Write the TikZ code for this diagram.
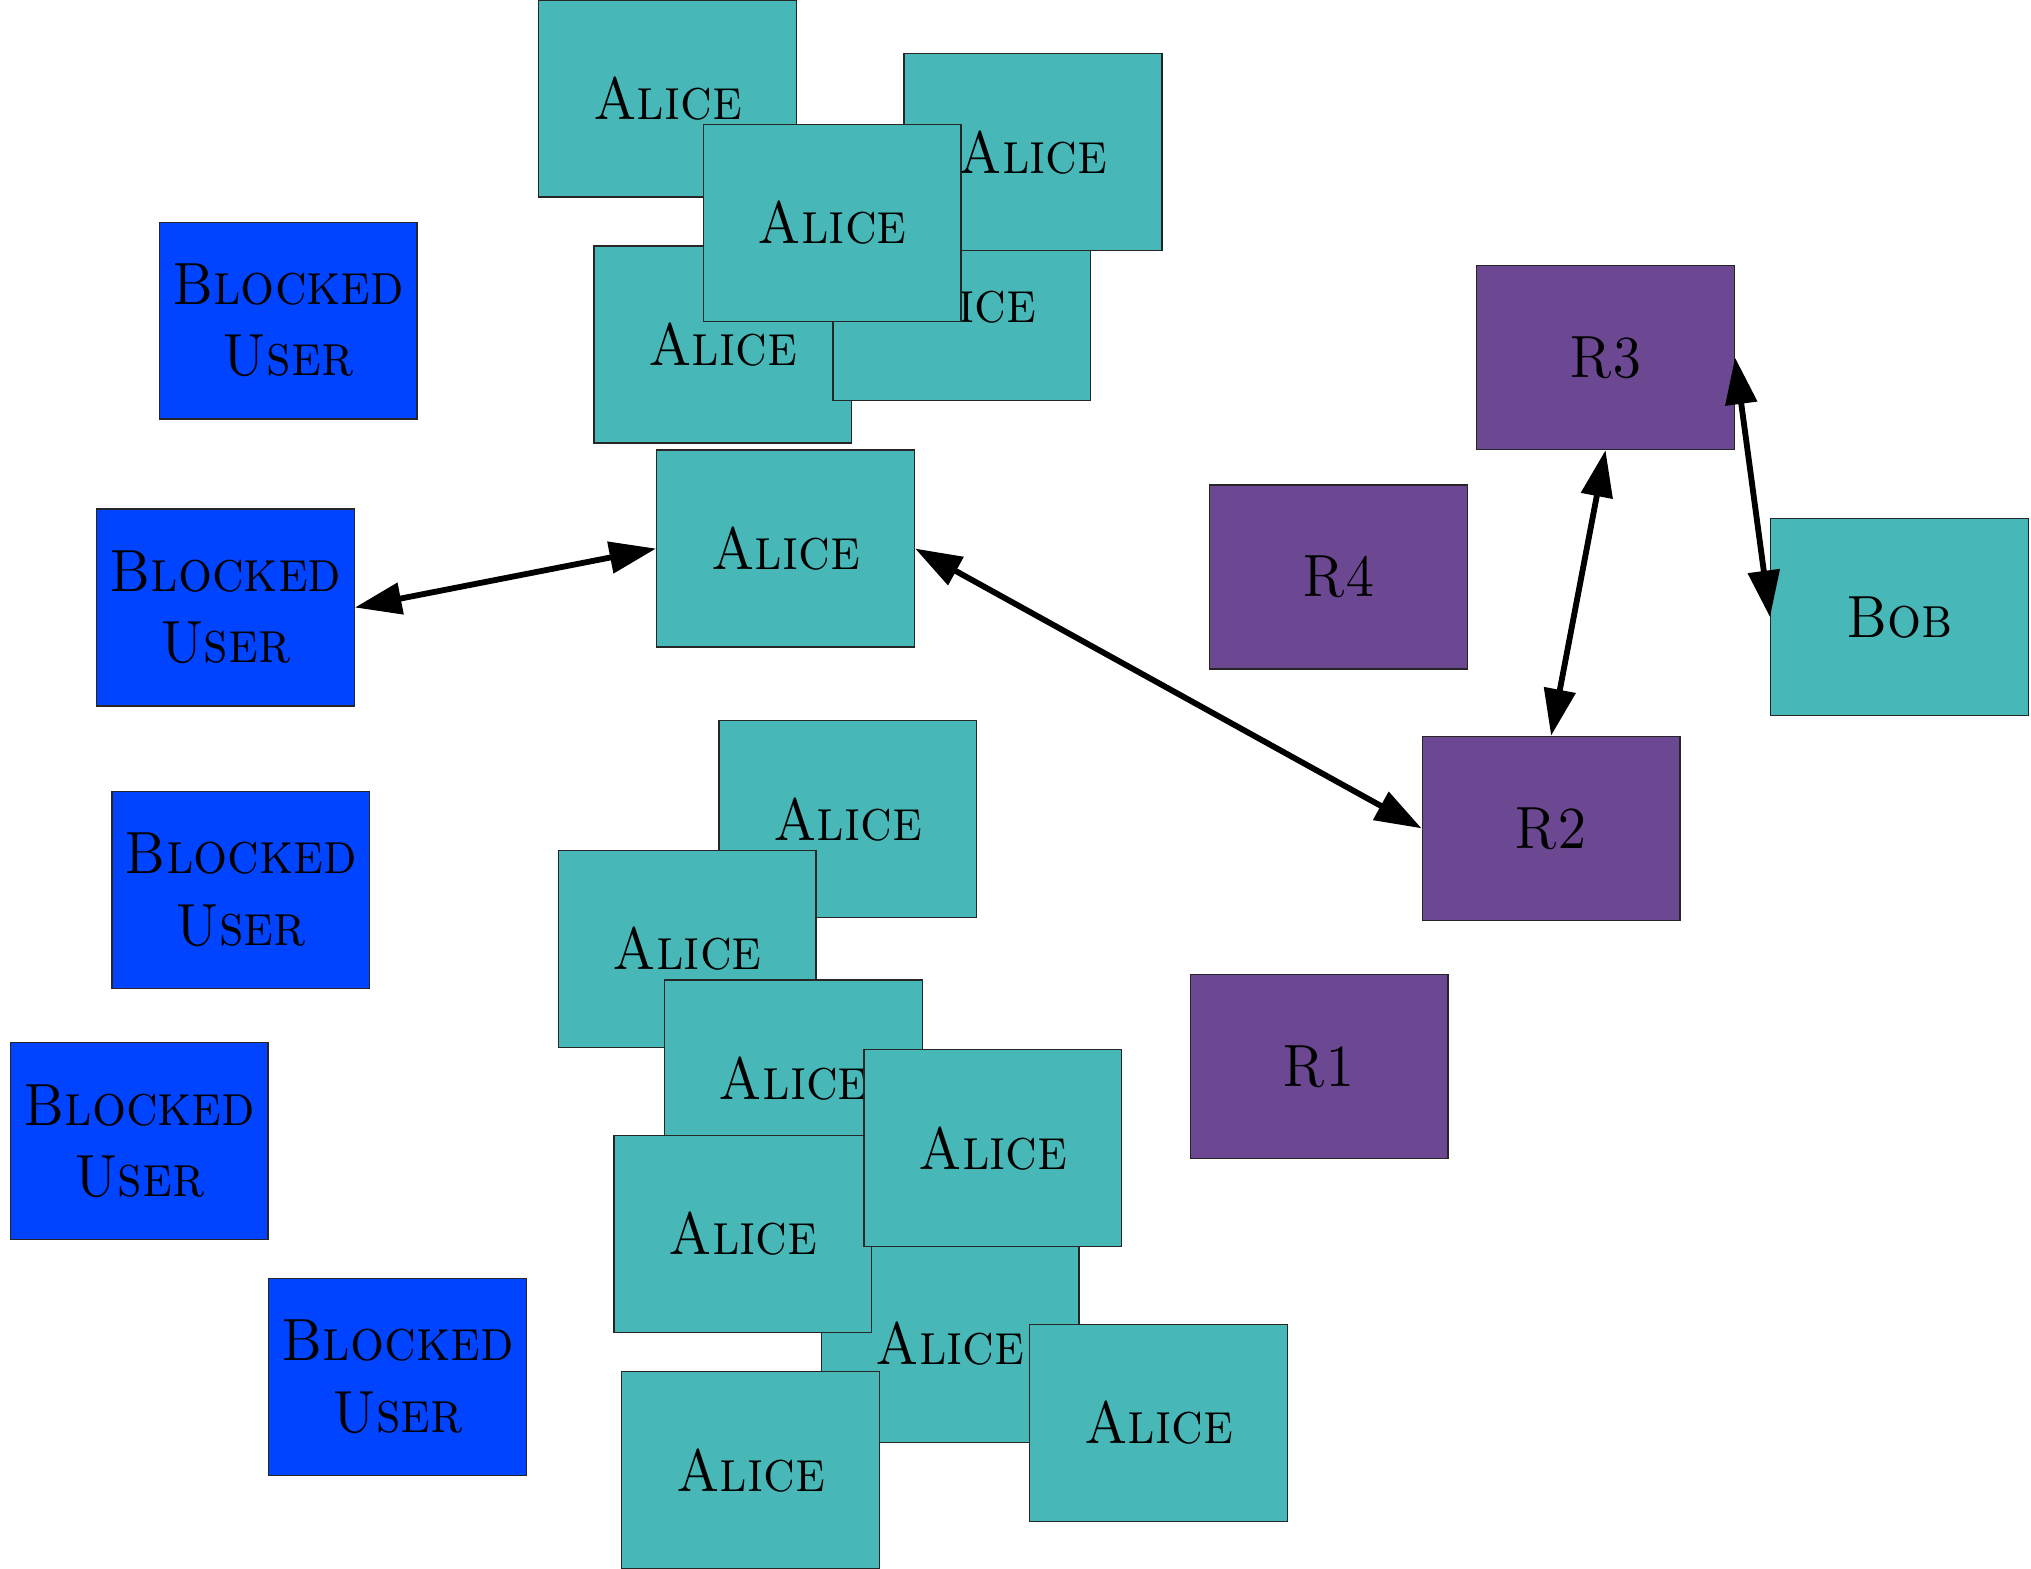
\documentclass[tikz,border=0pt]{standalone}
\usepackage{fontspec}
\usetikzlibrary{arrows.meta}
\definecolor{alicefill}{RGB}{71,183,183}
\definecolor{blockedfill}{RGB}{0,68,255}
\definecolor{relayfill}{RGB}{107,72,145}
% slightly condensed label text
\newcommand\boxlabel[1]{\scalebox{0.9}[1]{#1}}
\begin{document}
\begin{tikzpicture}[x=1pt,y=-1pt,
  box/.style={draw=black!85, line width=1pt, inner sep=0pt,
    minimum width=199pt, minimum height=152pt, align=center,
    font=\fontsize{46}{55}\selectfont\scshape},
  alice/.style={box, fill=alicefill},
  blocked/.style={box, fill=blockedfill},
  relay/.style={box, fill=relayfill, minimum height=142pt},
  link/.style={<->, >={Triangle[length=36pt,width=24pt]}, line width=4.5pt}]
\useasboundingbox (0,0) rectangle (1568,1211);

% blocked users on the left
\node[blocked] (b1) at (222.5,247.5) {\boxlabel{Blocked}\\\boxlabel{User}};
\node[blocked] (b2) at (174,469)     {\boxlabel{Blocked}\\\boxlabel{User}};
\node[blocked] (b3) at (186,687)     {\boxlabel{Blocked}\\\boxlabel{User}};
\node[blocked] (b4) at (107.5,881)   {\boxlabel{Blocked}\\\boxlabel{User}};
\node[blocked] (b5) at (307,1063)    {\boxlabel{Blocked}\\\boxlabel{User}};

% upper pile of Alice boxes
\node[alice] (t1) at (558,266)     {\boxlabel{Alice}};
\node[alice] (t2) at (742.5,233)   {\boxlabel{Alice}};
\node[alice] (t3) at (797.5,117.5) {\boxlabel{Alice}};
\node[alice] (t4) at (515.5,76)    {\boxlabel{Alice}};
\node[alice] (t5) at (642.5,172)   {\boxlabel{Alice}};

% the connected Alice
\node[alice] (m) at (606.5,423.5) {\boxlabel{Alice}};

% lower pile of Alice boxes
\node[alice] (a1) at (654.5,632.5)  {\boxlabel{Alice}};
\node[alice] (a2) at (530.5,732.5)  {\boxlabel{Alice}};
\node[alice] (a3) at (612.5,832.5)  {\boxlabel{Alice}};
\node[alice] (a4) at (733.5,1037.5) {\boxlabel{Alice}};
\node[alice] (a5) at (573.5,952.5)  {\boxlabel{Alice}};
\node[alice] (a6) at (766.5,886.5)  {\boxlabel{Alice}};
\node[alice] (a7) at (894.5,1098.5) {\boxlabel{Alice}};
\node[alice] (a8) at (579.5,1135)   {\boxlabel{Alice}};

% relays and Bob
\node[relay] (r3) at (1239.5,276)   {\boxlabel{R3}};
\node[relay] (r4) at (1033.5,445.5) {\boxlabel{R4}};
\node[relay] (r2) at (1197.5,639.5) {\boxlabel{R2}};
\node[relay] (r1) at (1018.5,823.5) {\boxlabel{R1}};
\node[alice] (bob) at (1466.5,476.5) {\boxlabel{Bob}};

% circuit links
\draw[link] (b2.east) -- (m.west);
\draw[link] (m.east) -- (r2.west);
\draw[link] (r2.north) -- (r3.south);
\draw[link] (r3.east) -- (bob.west);
\end{tikzpicture}
\end{document}
